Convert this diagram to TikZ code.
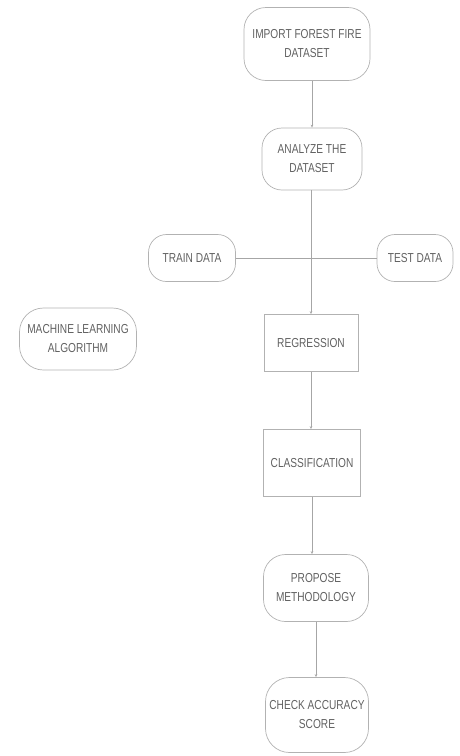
\documentclass[tikz,border=0pt]{standalone}
\usepackage{fontspec}
\setmainfont{Liberation Sans}[FakeStretch=0.78]
\usetikzlibrary{arrows.meta}
\begin{document}
\begin{tikzpicture}[x=1pt,y=-1pt,
  every node/.style={font=\fontsize{13}{19}\selectfont, text=black!62, align=center},
  rbox/.style={draw=black!30, line width=0.7pt, rounded corners=22pt, inner sep=0pt},
  sbox/.style={draw=black!30, line width=0.7pt, inner sep=0pt},
  conn/.style={draw=black!35, line width=0.6pt},
  arr/.style={conn, -{Stealth[length=3pt,width=2.5pt]}}]
\useasboundingbox (0,0) rectangle (460,756);
\node[rbox, minimum width=126pt, minimum height=73pt] (imp) at (307,44) {IMPORT FOREST FIRE\\DATASET};
\node[rbox, minimum width=100pt, minimum height=62pt, rounded corners=20pt] (ana) at (312,159) {ANALYZE THE\\DATASET};
\node[rbox, minimum width=87pt, minimum height=47pt, rounded corners=18pt] (train) at (192,258) {TRAIN DATA};
\node[rbox, minimum width=76pt, minimum height=47pt, rounded corners=18pt] (test) at (415,258) {TEST DATA};
\node[rbox, minimum width=117pt, minimum height=62pt, rounded corners=24pt] (ml) at (78,339) {MACHINE LEARNING\\ALGORITHM};
\node[sbox, minimum width=94pt, minimum height=57pt] (reg) at (311,343) {REGRESSION};
\node[sbox, minimum width=97pt, minimum height=67pt] (cls) at (312,463) {CLASSIFICATION};
\node[rbox, minimum width=105pt, minimum height=67pt] (prop) at (316,588) {PROPOSE\\METHODOLOGY};
\node[rbox, minimum width=103pt, minimum height=75pt, rounded corners=24pt] (chk) at (317,715) {CHECK ACCURACY\\SCORE};
\draw[arr] (imp.south -| ana.south) -- (ana.north);
\draw[conn] (train.east) -- (test.west);
\draw[arr] (ana.south -| reg.north) -- (reg.north);
\draw[arr] (reg.south) -- (reg.south |- cls.north);
\draw[arr] (cls.south) -- (cls.south |- prop.north);
\draw[arr] (prop.south) -- (prop.south |- chk.north);
\end{tikzpicture}
\end{document}
